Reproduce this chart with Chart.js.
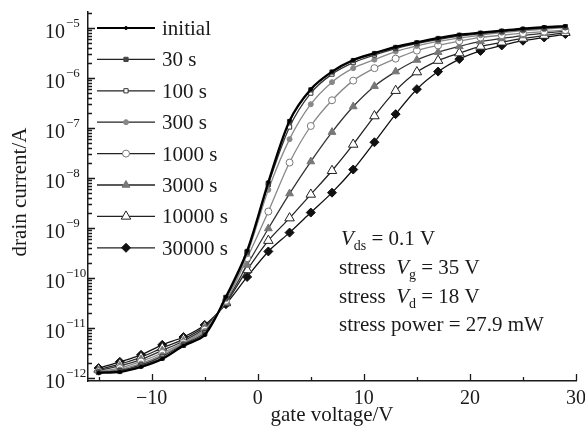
<!DOCTYPE html>
<html>
<head>
<meta charset="utf-8">
<script src="https://cdn.jsdelivr.net/npm/chart.js@4.4.0/dist/chart.umd.min.js"></script>
<style>html,body{margin:0;padding:0;background:#fff}</style>
</head>
<body>
<canvas id="chart" width="585" height="428"></canvas>
<script>
// gate voltage (V) for every measured point
const gateVoltage = [-15,-13,-11,-9,-7,-5,-3,-1,1,3,5,7,9,11,13,15,17,19,21,23,25,27,29];

// drain current (A) after each stress time
const initial = [1.26e-12,1.32e-12,1.66e-12,2.4e-12,4.4e-12,7.2e-12,4.2e-11,3.5e-10,8.3e-9,1.4e-7,6.0e-7,1.35e-6,2.3e-6,3.16e-6,4.2e-6,5.2e-6,6.3e-6,7.4e-6,8.1e-6,8.9e-6,9.8e-6,1.05e-5,1.1e-5];
const s30 = [1.29e-12,1.35e-12,1.74e-12,2.5e-12,4.5e-12,7.6e-12,4.1e-11,3.4e-10,7.9e-9,1.35e-7,5.8e-7,1.32e-6,2.24e-6,3.1e-6,4.1e-6,5.1e-6,6.2e-6,7.2e-6,7.9e-6,8.7e-6,9.5e-6,1.02e-5,1.07e-5];
const s100 = [1.32e-12,1.41e-12,1.82e-12,2.7e-12,4.7e-12,8.1e-12,4.0e-11,3.3e-10,7.4e-9,1.05e-7,5.0e-7,1.2e-6,2.04e-6,2.9e-6,3.9e-6,4.9e-6,5.9e-6,6.9e-6,7.8e-6,8.5e-6,9.3e-6,1.0e-5,1.05e-5];
const s300 = [1.32e-12,1.48e-12,1.95e-12,2.9e-12,4.9e-12,8.7e-12,3.8e-11,3.0e-10,5.8e-9,6.0e-8,3.0e-7,8.3e-7,1.58e-6,2.34e-6,3.4e-6,4.4e-6,5.4e-6,6.3e-6,7.2e-6,8.1e-6,8.9e-6,9.5e-6,1.02e-5];
const s1000 = [1.35e-12,1.58e-12,2.14e-12,3.16e-12,5.1e-12,9.3e-12,3.5e-11,2.5e-10,2.14e-9,2.04e-8,1.1e-7,3.6e-7,8.9e-7,1.58e-6,2.45e-6,3.55e-6,4.5e-6,5.5e-6,6.5e-6,7.2e-6,7.9e-6,8.5e-6,9.1e-6];
const s3000 = [1.41e-12,1.74e-12,2.34e-12,3.55e-12,5.5e-12,1.0e-11,3.3e-11,1.82e-10,9.8e-10,4.9e-9,2.14e-8,8.3e-8,2.7e-7,6.9e-7,1.35e-6,2.3e-6,3.3e-6,4.3e-6,5.4e-6,6.2e-6,7.1e-6,7.9e-6,8.7e-6];
const s10000 = [1.48e-12,1.9e-12,2.6e-12,4.0e-12,6.0e-12,1.07e-11,3.16e-11,1.45e-10,5.6e-10,1.58e-9,4.7e-9,1.4e-8,4.7e-8,1.74e-7,5.6e-7,1.32e-6,2.24e-6,3.16e-6,4.3e-6,5.2e-6,6.2e-6,7.1e-6,8.1e-6];
const s30000 = [1.58e-12,2.1e-12,2.9e-12,4.6e-12,6.6e-12,1.15e-11,3.0e-11,1.05e-10,3.4e-10,8.1e-10,2.04e-9,5.1e-9,1.48e-8,5.2e-8,1.9e-7,6.0e-7,1.35e-6,2.4e-6,3.5e-6,4.5e-6,5.6e-6,6.5e-6,7.6e-6];

const seriesNames = ['initial','30 s','100 s','300 s','1000 s','3000 s','10000 s','30000 s'];
const xMajorTicks = [-10,0,10,20,30];
const xMinorTicks = [-15,-5,5,15,25];
const yDecades = [-12,-11,-10,-9,-8,-7,-6,-5];

const SERIF = '"Liberation Serif", "DejaVu Serif", serif';
const INK = '#1a1a1a';

function series(label, data, line, lw, style, radius, fill, border) {
  return {
    label: label,
    data: data,
    borderColor: line,
    borderWidth: lw,
    pointStyle: style,
    pointRadius: radius,
    pointBackgroundColor: fill,
    pointBorderColor: border,
    pointBorderWidth: 1,
    tension: 0.3
  };
}

const datasets = [
  series(seriesNames[0], initial, '#000', 2.2, 'circle', 1.5, '#000', '#000'),
  series(seriesNames[1], s30, '#333', 1.3, 'rect', 3, '#444', '#444'),
  series(seriesNames[2], s100, '#333', 1.3, 'rect', 3, '#fff', '#333'),
  series(seriesNames[3], s300, '#888', 1.3, 'circle', 2.5, '#888', '#888'),
  series(seriesNames[4], s1000, '#888', 1.3, 'circle', 3.5, '#fff', '#777'),
  series(seriesNames[5], s3000, '#333', 1.3, 'triangle', 4.5, '#777', '#777'),
  series(seriesNames[6], s10000, '#222', 1.3, 'triangle', 5.5, '#fff', '#222'),
  series(seriesNames[7], s30000, '#111', 1.3, 'rectRot', 4.5, '#111', '#111')
];

// axes ticks, labels, legend and notes drawn on top
const decorations = {
  id: 'decorations',
  afterDraw(chart) {
    const ctx = chart.ctx;
    const xs = chart.scales.x;
    const ys = chart.scales.y;
    const area = chart.chartArea;
    ctx.save();
    ctx.strokeStyle = INK;
    ctx.fillStyle = INK;
    ctx.lineWidth = 1.3;

    // x ticks pointing inward
    ctx.beginPath();
    xMajorTicks.forEach(v => {
      const px = Math.round(xs.getPixelForValue(v)) + 0.5;
      ctx.moveTo(px, area.bottom); ctx.lineTo(px, area.bottom - 7);
    });
    xMinorTicks.forEach(v => {
      const px = Math.round(xs.getPixelForValue(v)) + 0.5;
      ctx.moveTo(px, area.bottom); ctx.lineTo(px, area.bottom - 4);
    });
    // y ticks pointing inward
    yDecades.forEach(e => {
      for (let k = 1; k <= 9; k++) {
        const v = k * Math.pow(10, e);
        if (v < ys.min || v > ys.max) continue;
        const py = Math.round(ys.getPixelForValue(v)) + 0.5;
        ctx.moveTo(area.left, py); ctx.lineTo(area.left + (k === 1 ? 7 : 4), py);
      }
    });
    ctx.stroke();

    // x tick labels
    ctx.font = '20px ' + SERIF;
    ctx.textAlign = 'center';
    ctx.textBaseline = 'alphabetic';
    xMajorTicks.forEach(v => {
      ctx.fillText(v < 0 ? '\u2212' + Math.abs(v) : String(v), xs.getPixelForValue(v), 404);
    });

    // y tick labels 10^e
    yDecades.forEach(e => {
      const py = ys.getPixelForValue(Math.pow(10, e));
      ctx.font = '20px ' + SERIF;
      ctx.textAlign = 'right';
      ctx.fillText('10', 65, py + 10);
      ctx.font = '13px ' + SERIF;
      ctx.textAlign = 'left';
      ctx.fillText('\u2212' + Math.abs(e), 66, py - 1);
    });

    // axis titles
    ctx.font = '21px ' + SERIF;
    ctx.textAlign = 'center';
    ctx.fillText('gate voltage/V', 332, 421);
    ctx.save();
    ctx.translate(26, 192);
    ctx.rotate(-Math.PI / 2);
    ctx.font = '21px ' + SERIF;
    ctx.fillText('drain current/A', 0, 0);
    ctx.restore();

    // legend
    chart.data.datasets.forEach((ds, i) => {
      const ry = 28 + i * 31.4;
      ctx.strokeStyle = i === 0 ? '#000' : '#222';
      ctx.lineWidth = ds.borderWidth;
      ctx.beginPath();
      ctx.moveTo(97, ry); ctx.lineTo(155, ry);
      ctx.stroke();
      ctx.fillStyle = ds.pointBackgroundColor;
      ctx.strokeStyle = ds.pointBorderColor;
      ctx.lineWidth = 1;
      Chart.helpers.drawPoint(ctx, {pointStyle: ds.pointStyle, radius: ds.pointRadius, rotation: 0, borderWidth: 1}, 126, ry);
      ctx.fillStyle = INK;
      ctx.font = '21px ' + SERIF;
      ctx.textAlign = 'left';
      ctx.fillText(ds.label, 162, ry + 7);
    });

    // notes
    const pieces = (x, y, parts) => {
      parts.forEach(p => {
        ctx.font = p[1];
        ctx.fillText(p[0], x, y + (p[2] || 0));
        x += ctx.measureText(p[0]).width;
      });
    };
    const rg = '21px ' + SERIF, it = 'italic 21px ' + SERIF, sb = '14px ' + SERIF;
    ctx.textAlign = 'left';
    pieces(341, 245, [['V', it], ['ds', sb, 5], [' = 0.1 V', rg]]);
    pieces(339, 274, [['stress  ', rg], ['V', it], ['g', sb, 5], [' = 35 V', rg]]);
    pieces(339, 303, [['stress  ', rg], ['V', it], ['d', sb, 5], [' = 18 V', rg]]);
    pieces(339, 331, [['stress power = 27.9 mW', rg]]);
    ctx.restore();
  }
};

new Chart(document.getElementById('chart'), {
  type: 'line',
  data: { labels: gateVoltage, datasets: datasets },
  options: {
    responsive: false,
    animation: false,
    devicePixelRatio: 1,
    layout: { padding: { left: 88, top: 12, right: 9, bottom: 47 } },
    scales: {
      x: {
        type: 'linear',
        min: -16,
        max: 30,
        grid: { display: false, drawTicks: false },
        ticks: { display: false },
        border: { display: true, color: INK, width: 1.5 }
      },
      y: {
        type: 'logarithmic',
        min: 8.7e-13,
        max: 2.1e-5,
        grid: { display: false, drawTicks: false },
        ticks: { display: false },
        border: { display: true, color: INK, width: 1.5 }
      }
    },
    plugins: {
      legend: { display: false },
      tooltip: { enabled: false }
    }
  },
  plugins: [decorations]
});
</script>
</body>
</html>
